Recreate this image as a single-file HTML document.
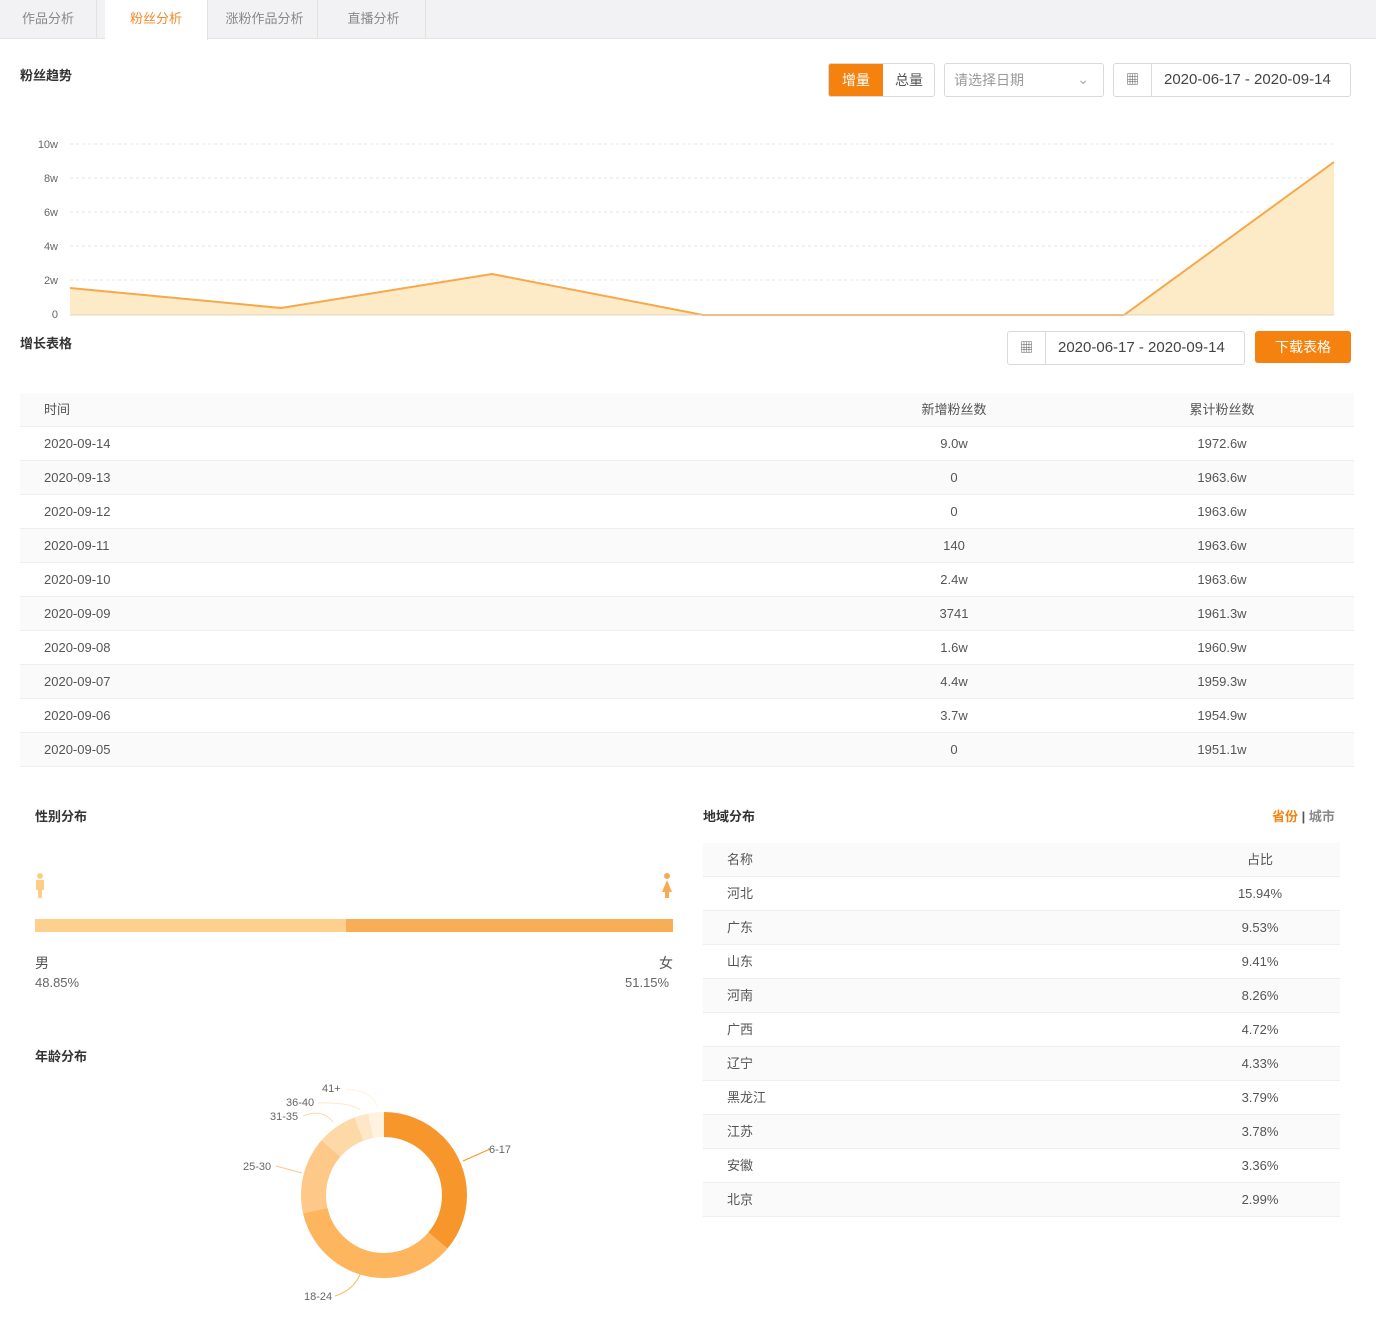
<!DOCTYPE html>
<html><head><meta charset="utf-8"><style>
*{margin:0;padding:0;box-sizing:border-box}
body{width:1376px;height:1330px;background:#fff;font-family:"Liberation Sans","Noto Sans CJK SC",sans-serif;color:#555;position:relative;overflow:hidden;font-size:13px}
.a{position:absolute}
.tabs{left:0;top:0;width:1376px;height:39px;background:#f2f2f4;border-bottom:1px solid #e4e4e4}
.tab{position:absolute;top:0;height:39px;line-height:38px;text-align:center;color:#888;font-size:13px;border-right:1px solid #e2e2e2}
h3{position:absolute;font-size:13px;font-weight:bold;color:#333}
.box{position:absolute;border:1px solid #d9d9d9;border-radius:3px;background:#fff}
.row{position:absolute;left:0;width:100%;height:34px;line-height:34px;border-bottom:1px solid #eee}
.g{background:#fafafa}
.c{position:absolute;text-align:center}
</style></head><body>
<div class="a tabs">
<div class="tab" style="left:0;width:97px">作品分析</div>
<div class="tab" style="left:105px;width:103px;background:#fff;color:#f08a2c;height:40px">粉丝分析</div>
<div class="tab" style="left:212px;width:106px">涨粉作品分析</div>
<div class="tab" style="left:322px;width:104px">直播分析</div>
</div>
<h3 style="left:20px;top:65px">粉丝趋势</h3>
<div class="box" style="left:828px;top:63px;width:107px;height:34px;overflow:hidden">
<div class="a" style="left:0;top:0;width:54px;height:34px;background:#f5820f;color:#fff;text-align:center;line-height:32px;font-size:14px">增量</div>
<div class="a" style="left:54px;top:0;width:52px;height:34px;color:#555;text-align:center;line-height:32px;font-size:14px">总量</div>
</div>
<div class="box" style="left:944px;top:63px;width:160px;height:34px;line-height:32px;padding-left:9px;color:#999;font-size:14px">请选择日期<span class="a" style="right:14px;top:-1px;color:#aaa">&#8964;</span></div>
<div class="box" style="left:1113px;top:63px;width:238px;height:34px">
<div class="a" style="left:0;top:0;width:38px;height:32px;border-right:1px solid #d9d9d9;text-align:center;line-height:32px;color:#555">&#9638;</div>
<div class="a" style="left:50px;top:0;line-height:32px;font-size:15px;color:#444">2020-06-17 - 2020-09-14</div></div>
<svg class="a" style="left:0;top:130px" width="1376" height="195">
<g stroke="#e6e6e6" stroke-dasharray="3,3"><line x1="70" x2="1334" y1="14" y2="14"/><line x1="70" x2="1334" y1="48" y2="48"/><line x1="70" x2="1334" y1="82" y2="82"/><line x1="70" x2="1334" y1="116" y2="116"/><line x1="70" x2="1334" y1="150" y2="150"/></g>
<g font-size="11" fill="#666" text-anchor="end" font-family="Liberation Sans"><text x="58" y="18">10w</text><text x="58" y="52">8w</text><text x="58" y="86">6w</text><text x="58" y="120">4w</text><text x="58" y="154">2w</text><text x="58" y="188">0</text></g>
<polygon points="70,158 281,178 492,144 703,185 914,185 1124,185 1334,32 1334,185 70,185" fill="#fde9c4" opacity="0.95"/>
<polyline points="70,158 281,178 492,144 703,185 914,185 1124,185 1334,32" fill="none" stroke="#f6a84a" stroke-width="2"/>
<line x1="70" x2="1334" y1="185" y2="185" stroke="#e0d4c0"/>
</svg>
<h3 style="left:20px;top:333px">增长表格</h3>
<div class="box" style="left:1007px;top:331px;width:238px;height:34px">
<div class="a" style="left:0;top:0;width:38px;height:32px;border-right:1px solid #d9d9d9;text-align:center;line-height:32px">&#9638;</div>
<div class="a" style="left:50px;top:0;line-height:32px;font-size:15px;color:#444">2020-06-17 - 2020-09-14</div></div>
<div class="a" style="left:1255px;top:331px;width:96px;height:32px;background:#f5820f;border-radius:3px;color:#fff;text-align:center;line-height:32px;font-size:14px">下载表格</div>
<div class="a" style="left:20px;top:393px;width:1334px;height:374px">
<div class="row g" style="top:0"><span class="a" style="left:24px">时间</span><span class="c" style="left:884px;width:100px">新增粉丝数</span><span class="c" style="left:1152px;width:100px">累计粉丝数</span></div>
<div class="row" style="top:34px"><span class="a" style="left:24px">2020-09-14</span><span class="c" style="left:884px;width:100px">9.0w</span><span class="c" style="left:1152px;width:100px">1972.6w</span></div>
<div class="row g" style="top:68px"><span class="a" style="left:24px">2020-09-13</span><span class="c" style="left:884px;width:100px">0</span><span class="c" style="left:1152px;width:100px">1963.6w</span></div>
<div class="row" style="top:102px"><span class="a" style="left:24px">2020-09-12</span><span class="c" style="left:884px;width:100px">0</span><span class="c" style="left:1152px;width:100px">1963.6w</span></div>
<div class="row g" style="top:136px"><span class="a" style="left:24px">2020-09-11</span><span class="c" style="left:884px;width:100px">140</span><span class="c" style="left:1152px;width:100px">1963.6w</span></div>
<div class="row" style="top:170px"><span class="a" style="left:24px">2020-09-10</span><span class="c" style="left:884px;width:100px">2.4w</span><span class="c" style="left:1152px;width:100px">1963.6w</span></div>
<div class="row g" style="top:204px"><span class="a" style="left:24px">2020-09-09</span><span class="c" style="left:884px;width:100px">3741</span><span class="c" style="left:1152px;width:100px">1961.3w</span></div>
<div class="row" style="top:238px"><span class="a" style="left:24px">2020-09-08</span><span class="c" style="left:884px;width:100px">1.6w</span><span class="c" style="left:1152px;width:100px">1960.9w</span></div>
<div class="row g" style="top:272px"><span class="a" style="left:24px">2020-09-07</span><span class="c" style="left:884px;width:100px">4.4w</span><span class="c" style="left:1152px;width:100px">1959.3w</span></div>
<div class="row" style="top:306px"><span class="a" style="left:24px">2020-09-06</span><span class="c" style="left:884px;width:100px">3.7w</span><span class="c" style="left:1152px;width:100px">1954.9w</span></div>
<div class="row g" style="top:340px"><span class="a" style="left:24px">2020-09-05</span><span class="c" style="left:884px;width:100px">0</span><span class="c" style="left:1152px;width:100px">1951.1w</span></div>
</div>
<h3 style="left:35px;top:806px">性别分布</h3>
<svg class="a" style="left:34px;top:872px" width="12" height="28"><circle cx="6" cy="4" r="3" fill="#fdcd87"/><rect x="2" y="8" width="8" height="10" fill="#fdcd87"/><rect x="4" y="17" width="4" height="9" fill="#fdcd87"/></svg>
<svg class="a" style="left:660px;top:872px" width="14" height="28"><circle cx="7" cy="4" r="3" fill="#f6ab52"/><polygon points="7,8 12,20 2,20" fill="#f6ab52"/><rect x="5" y="18" width="4" height="8" fill="#f6ab52"/></svg>
<div class="a" style="left:35px;top:919px;width:311px;height:13px;background:#fdd08e"></div>
<div class="a" style="left:346px;top:919px;width:327px;height:13px;background:#f7ae56"></div>
<div class="a" style="left:35px;top:953px;font-size:14px;color:#555">男</div>
<div class="a" style="left:35px;top:975px;color:#666">48.85%</div>
<div class="a" style="left:659px;top:953px;font-size:14px;color:#555">女</div>
<div class="a" style="left:625px;top:975px;color:#666">51.15%</div>
<h3 style="left:35px;top:1046px">年龄分布</h3>
<svg class="a" style="left:0;top:1060px" width="700" height="260">
<g transform="translate(384,135) rotate(-90)" fill="none" stroke-width="25">
<circle r="70.5" stroke="#f7962a" stroke-dasharray="160 443"/>
<circle r="70.5" stroke="#fdb55e" stroke-dasharray="0 160 156.3 443"/>
<circle r="70.5" stroke="#fec888" stroke-dasharray="0 316.3 66.5 443"/>
<circle r="70.5" stroke="#fed9a8" stroke-dasharray="0 382.8 34.5 443"/>
<circle r="70.5" stroke="#fee7c6" stroke-dasharray="0 417.3 12.3 443"/>
<circle r="70.5" stroke="#fff3e0" stroke-dasharray="0 429.6 13.4 443"/>
</g>
<g fill="none" stroke-width="1">
<polyline points="463,101 490,89 488,89" stroke="#f7962a"/>
<path d="M362,210 Q355,230 335,236" stroke="#fdb55e"/>
<path d="M302,113 L276,106" stroke="#fec888"/>
<path d="M333,62 Q322,48 303,56" stroke="#fed9a8"/>
<path d="M360,50 Q350,42 318,43" stroke="#fee7c6"/>
<path d="M377,45 Q370,30 345,29" stroke="#fff3e0"/>
</g>
<g font-size="11" fill="#666" font-family="Liberation Sans">
<text x="489" y="93">6-17</text><text x="304" y="240">18-24</text><text x="243" y="110">25-30</text>
<text x="270" y="60">31-35</text><text x="286" y="46">36-40</text><text x="322" y="32">41+</text></g>
</svg>
<h3 style="left:703px;top:806px">地域分布</h3>
<div class="a" style="left:1272px;top:806px;font-size:13px;color:#888"><b style="color:#f5820f">省份</b> <b style="color:#555">|</b> <b>城市</b></div>
<div class="a" style="left:703px;top:843px;width:637px;height:374px">
<div class="row g" style="top:0"><span class="a" style="left:24px">名称</span><span class="c" style="left:507px;width:100px">占比</span></div>
<div class="row" style="top:34px"><span class="a" style="left:24px">河北</span><span class="c" style="left:507px;width:100px">15.94%</span></div>
<div class="row g" style="top:68px"><span class="a" style="left:24px">广东</span><span class="c" style="left:507px;width:100px">9.53%</span></div>
<div class="row" style="top:102px"><span class="a" style="left:24px">山东</span><span class="c" style="left:507px;width:100px">9.41%</span></div>
<div class="row g" style="top:136px"><span class="a" style="left:24px">河南</span><span class="c" style="left:507px;width:100px">8.26%</span></div>
<div class="row" style="top:170px"><span class="a" style="left:24px">广西</span><span class="c" style="left:507px;width:100px">4.72%</span></div>
<div class="row g" style="top:204px"><span class="a" style="left:24px">辽宁</span><span class="c" style="left:507px;width:100px">4.33%</span></div>
<div class="row" style="top:238px"><span class="a" style="left:24px">黑龙江</span><span class="c" style="left:507px;width:100px">3.79%</span></div>
<div class="row g" style="top:272px"><span class="a" style="left:24px">江苏</span><span class="c" style="left:507px;width:100px">3.78%</span></div>
<div class="row" style="top:306px"><span class="a" style="left:24px">安徽</span><span class="c" style="left:507px;width:100px">3.36%</span></div>
<div class="row g" style="top:340px"><span class="a" style="left:24px">北京</span><span class="c" style="left:507px;width:100px">2.99%</span></div>
</div>
</body></html>
